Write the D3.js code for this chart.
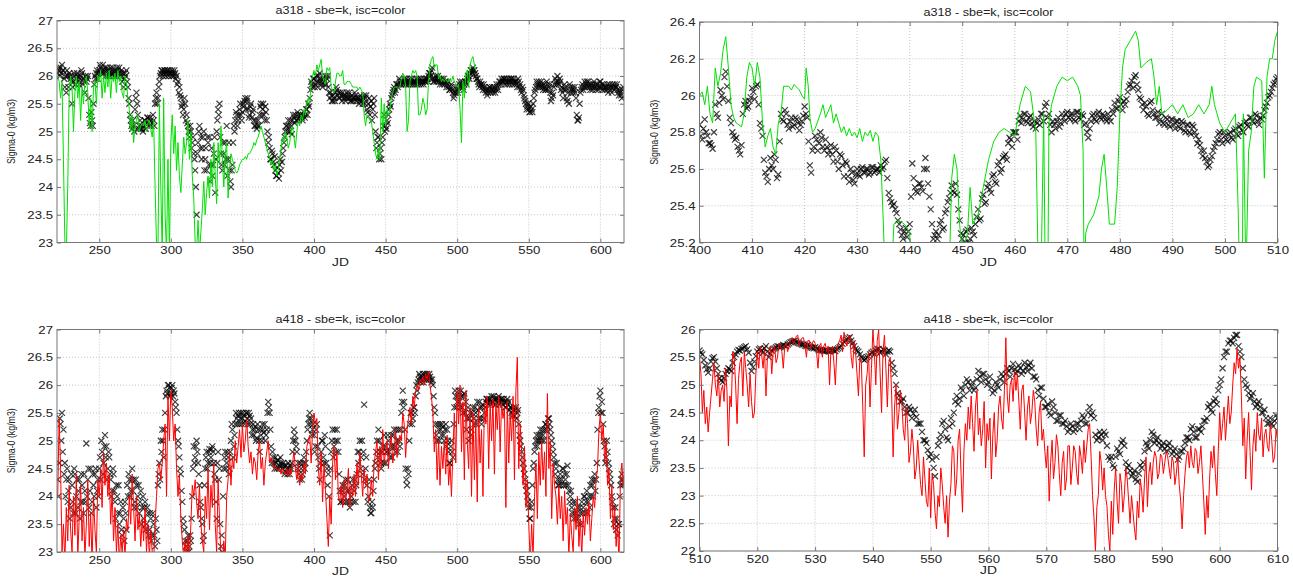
<!DOCTYPE html>
<html>
<head>
<meta charset="utf-8">
<script src="https://cdn.jsdelivr.net/npm/d3@7"></script>
<style>
  body { margin: 0; background: #fff; }
  svg { display: block; }
  .tick text { font-family: "Liberation Sans", Arial, sans-serif; font-size: 11px; fill: #222; }
  .lbl { font-family: "Liberation Sans", Arial, sans-serif; fill: #222; }
</style>
</head>
<body>
<div id="container"></div>
<script>
// ---- titles / ticks ----
const titleA318 = "a318 - sbe=k, isc=color";
const titleA418 = "a418 - sbe=k, isc=color";
const xLabel = "JD";
const yLabel = "Sigma-0 (kg/m3)";

const jdTicksWide = [250, 300, 350, 400, 450, 500, 550, 600];
const sigmaTicksWide = [23, 23.5, 24, 24.5, 25, 25.5, 26, 26.5, 27];
const jdTicksZoom318 = [400, 410, 420, 430, 440, 450, 460, 470, 480, 490, 500, 510];
const sigmaTicksZoom318 = [25.2, 25.4, 25.6, 25.8, 26, 26.2, 26.4];
const jdTicksZoom418 = [510, 520, 530, 540, 550, 560, 570, 580, 590, 600, 610];
const sigmaTicksZoom418 = [22, 22.5, 23, 23.5, 24, 24.5, 25, 25.5, 26];

// ---- a318, sbe (black x), daily from JD 221 ----
const sbeA318 = [
  26.05, 26.1, 26.15, 26.2, 26.1, 25.8, 25.7, 26.0, 26.05, 25.95,
  25.5, 25.9, 26.0, 25.95, 26.0, 25.85, 26.0, 26.05, 25.95, 25.7,
  25.9, 26.0, 25.3, 25.1, 25.2, 25.5, 26.0, 26.05, 25.95, 26.1,
  26.15, 26.1, 26.05, 26.15, 26.1, 26.0, 26.05, 26.15, 26.1, 26.05,
  26.1, 26.0, 26.1, 26.15, 26.05, 25.9, 25.8, 26.05, 26.1, 25.8,
  25.5, 25.2, 25.05, 25.1, 25.4, 25.7, 25.3, 25.1, 25.05, 25.05,
  25.1, 25.2, 25.15, 25.25, 25.1, 25.2, 25.15, 25.2, 25.5, 25.7,
  25.6, 25.9, 26.05, 26.1, 26.05, 26.1, 26.05, 26.1, 26.05, 26.05,
  26.1, 26.0, 26.05, 26.0, 25.9, 25.8, 25.6, 25.5, 25.4, 25.5,
  25.3, 25.1, 24.9, 25.0, 24.8, 24.6, 24.3, 23.5, 24.8, 25.1,
  24.9, 24.7, 25.0, 24.5, 24.3, 24.8, 24.9, 24.4, 24.2, 24.6,
  23.9, 25.0, 25.4, 25.5, 24.6, 24.3, 24.6, 24.8, 25.1, 24.5,
  24.3, 24.0, 24.4, 25.1, 25.2, 25.3, 25.2, 25.4, 25.3, 25.35,
  25.45, 25.6, 25.55, 25.4, 25.3, 25.5, 25.35, 25.2, 25.1, 25.05,
  25.2, 25.3, 25.5, 25.4, 25.3, 25.45, 25.2, 24.8, 24.7, 24.5,
  24.6, 24.4, 24.3, 24.2, 24.25, 24.4, 24.3, 24.6, 24.8, 25.0,
  25.1, 25.2, 25.0, 25.1, 25.2, 25.25, 25.3, 25.2, 25.3, 25.25,
  25.3, 25.2, 25.35, 25.3, 25.4, 25.5, 25.6, 25.9, 25.8, 25.95,
  25.85, 25.9, 26.0, 26.05, 25.9, 25.8, 25.85, 26.0, 25.95, 25.8,
  25.6, 25.65, 25.55, 25.6, 25.7, 25.75, 25.7, 25.6, 25.65, 25.7,
  25.6, 25.55, 25.7, 25.65, 25.6, 25.55, 25.6, 25.6, 25.65, 25.55,
  25.6, 25.55, 25.6, 25.5, 25.65, 25.6, 25.4, 25.5, 25.3, 25.55,
  25.4, 25.6, 25.0, 24.8, 24.9, 24.6, 24.5, 24.9, 25.3, 25.1,
  25.2, 25.3, 25.5, 25.6, 25.7, 25.8, 25.75, 25.85, 25.85, 25.9,
  25.85, 25.9, 25.95, 25.85, 25.9, 25.85, 25.95, 25.9, 25.85, 25.9,
  25.9, 25.85, 25.95, 25.9, 25.85, 25.9, 25.95, 25.9, 25.95, 26.0,
  26.05, 26.1, 25.95, 25.9, 26.0, 25.95, 25.9, 25.85, 25.95, 25.9,
  25.85, 25.9, 25.85, 25.8, 25.75, 25.85, 25.7, 25.65, 25.7, 25.75,
  25.8, 25.9, 25.85, 25.8, 25.85, 25.9, 25.95, 26.0, 26.05, 26.1,
  26.15, 26.1, 26.0, 25.95, 25.85, 25.9, 25.85, 25.75, 25.8, 25.7,
  25.65, 25.75, 25.8, 25.75, 25.7, 25.8, 25.75, 25.8, 25.85, 25.9,
  25.95, 25.9, 25.95, 25.9, 25.85, 25.95, 25.9, 25.95, 25.9, 25.85,
  25.9, 25.8, 25.9, 25.85, 25.7, 25.75, 25.6, 25.5, 25.45, 25.4,
  25.35, 25.4, 25.5, 25.7, 25.8, 25.85, 25.9, 25.8, 25.85, 25.75,
  25.8, 25.75, 25.85, 25.8, 25.7, 25.6, 25.65, 25.85, 25.9, 26.0,
  25.85, 25.9, 25.8, 25.6, 25.85, 25.75, 25.55, 25.5, 25.8, 25.75,
  25.7, 25.8, 25.6, 25.2, 25.25, 25.7, 25.8, 25.75, 25.9, 25.85,
  25.8, 25.85, 25.75, 25.8, 25.85, 25.8, 25.75, 25.85, 25.8, 25.9,
  25.85, 25.8, 25.75, 25.8, 25.85, 25.8, 25.75, 25.7, 25.8, 25.85,
  25.8, 25.75, 25.65, 25.7, 25.6, 25.8
];
// second casts of each day, from JD 221.5
const sbeA318B = [
  26.15, 26.0, 26.05, 26.1, 25.95, 26.0, 26.1, 25.8, 26.0, 25.9,
  25.8, 26.05, 25.85, 26.05, 25.9, 25.95, 26.1, 25.85, 25.9, 26.0,
  25.95, 25.6, 25.15, 25.35, 25.1, 25.85, 25.95, 26.1, 26.05, 26.2,
  26.05, 26.2, 26.1, 26.0, 26.15, 26.1, 26.0, 26.05, 26.15, 26.0,
  26.05, 26.15, 26.05, 26.0, 26.1, 26.05, 25.95, 26.0, 25.9, 25.6,
  25.3, 25.1, 25.2, 25.0, 25.6, 25.5, 25.05, 25.2, 25.1, 25.0,
  25.2, 25.05, 25.25, 25.15, 25.25, 25.1, 25.3, 25.1, 25.6, 25.5,
  25.8, 26.0, 26.1, 26.0, 26.1, 26.0, 26.1, 26.0, 26.1, 26.0,
  26.05, 26.1, 25.95, 25.85, 25.7, 25.65, 25.45, 25.3, 25.6, 25.2,
  25.15, 25.0, 25.1, 24.7, 24.9, 24.5, 24.0, 24.6, 25.0, 24.7,
  24.5, 24.9, 24.3, 24.7, 24.9, 24.4, 24.1, 24.7, 24.4, 24.9,
  24.5, 25.2, 25.3, 24.9, 24.4, 24.8, 24.4, 24.5, 24.2, 24.8,
  24.1, 24.3, 24.8, 25.0, 25.35, 25.1, 25.3, 25.5, 25.2, 25.5,
  25.55, 25.4, 25.6, 25.25, 25.45, 25.25, 25.4, 25.1, 25.2, 25.1,
  25.1, 25.45, 25.3, 25.5, 25.2, 25.35, 25.0, 24.9, 24.5, 24.65,
  24.45, 24.55, 24.2, 24.35, 24.15, 24.5, 24.45, 24.7, 24.9, 25.1,
  25.0, 25.1, 25.2, 24.95, 25.3, 25.15, 25.2, 25.35, 25.2, 25.3,
  25.25, 25.3, 25.25, 25.4, 25.3, 25.45, 25.75, 25.85, 25.95, 25.8,
  26.0, 25.8, 25.9, 25.95, 25.85, 25.95, 25.9, 25.85, 26.0, 25.7,
  25.7, 25.55, 25.65, 25.55, 25.8, 25.65, 25.6, 25.7, 25.55, 25.65,
  25.65, 25.6, 25.6, 25.7, 25.55, 25.65, 25.55, 25.7, 25.6, 25.6,
  25.5, 25.65, 25.55, 25.6, 25.5, 25.65, 25.35, 25.6, 25.45, 25.2,
  25.5, 25.3, 24.7, 24.9, 24.5, 24.7, 24.8, 25.1, 25.0, 25.05,
  25.15, 25.4, 25.45, 25.65, 25.75, 25.7, 25.85, 25.8, 25.95, 25.85,
  25.9, 25.85, 25.9, 25.95, 25.85, 25.9, 25.85, 25.95, 25.9, 25.85,
  25.95, 25.9, 25.85, 25.95, 25.9, 25.85, 25.9, 25.95, 25.9, 26.05,
  26.0, 26.15, 25.9, 25.95, 25.9, 26.0, 25.95, 25.9, 25.85, 25.95,
  25.9, 25.8, 25.9, 25.75, 25.8, 25.75, 25.6, 25.7, 25.8, 25.7,
  25.85, 25.8, 25.9, 25.75, 25.9, 25.85, 26.0, 25.95, 26.1, 26.05,
  26.1, 26.05, 25.95, 25.9, 25.8, 25.85, 25.8, 25.85, 25.75, 25.75,
  25.7, 25.8, 25.7, 25.8, 25.75, 25.7, 25.85, 25.75, 25.9, 25.85,
  25.9, 25.95, 25.85, 25.95, 25.9, 25.85, 25.95, 25.85, 25.95, 25.9,
  25.85, 25.95, 25.8, 25.75, 25.8, 25.65, 25.55, 25.4, 25.5, 25.35,
  25.45, 25.35, 25.6, 25.75, 25.9, 25.8, 25.85, 25.9, 25.8, 25.85,
  25.75, 25.9, 25.75, 25.85, 25.55, 25.7, 25.8, 25.95, 25.85, 25.9,
  25.95, 25.75, 25.7, 25.75, 25.8, 25.6, 25.7, 25.85, 25.7, 25.8,
  25.75, 25.7, 25.3, 25.2, 25.5, 25.75, 25.85, 25.8, 25.8, 25.9,
  25.9, 25.8, 25.85, 25.75, 25.9, 25.85, 25.8, 25.75, 25.9, 25.8,
  25.75, 25.85, 25.8, 25.75, 25.7, 25.85, 25.8, 25.85, 25.75, 25.8,
  25.85, 25.7, 25.75, 25.65, 25.75
];

// ---- a318, isc (green line), daily from JD 221 ----
const iscA318 = [
  26.0, 25.9, 25.6, 25.9, 24.5, 23.0, 22.8, 24.0, 25.7, 26.0,
  25.8, 25.0, 25.7, 26.0, 25.6, 25.9, 25.2, 25.8, 25.5, 25.9,
  26.0, 25.7, 25.1, 25.6, 25.0, 25.8, 25.9, 25.5, 26.0, 25.9,
  26.1, 25.6, 26.0, 25.7, 26.05, 25.8, 26.1, 25.6, 26.0, 25.9,
  26.05, 25.7, 26.1, 25.9, 26.0, 25.7, 25.6, 26.0, 25.9, 25.6,
  25.4, 25.0, 25.3, 24.8, 25.1, 25.2, 25.3, 25.0, 25.1, 25.15,
  25.1, 25.2, 25.0, 25.15, 25.2, 25.05, 24.9, 25.2, 24.0, 23.0,
  22.8, 25.5, 24.0, 22.8, 25.6, 23.5, 22.8, 24.5, 22.8, 24.8,
  25.3, 24.6, 25.1, 24.3, 24.8, 24.2, 23.9, 24.4, 24.9, 24.6,
  24.8, 25.2, 24.5, 25.0, 24.2, 23.8, 23.0, 22.8, 23.4, 22.8,
  23.2, 23.6, 24.1, 23.5, 23.9, 24.2, 23.8, 24.5, 24.0, 24.8,
  24.2, 23.7, 24.8, 24.4, 25.1, 24.5, 24.0, 24.6, 24.8, 23.8,
  24.3, 24.6, 24.5, 24.4, 24.3, 24.25, 24.3, 24.4, 24.45, 24.5,
  24.5, 24.55, 24.5, 24.6, 24.6, 24.65, 24.7, 24.8, 24.75, 24.85,
  24.9, 25.0, 25.1, 25.0, 24.9, 24.8, 24.7, 24.6, 24.5, 24.4,
  24.5, 24.3, 24.4, 24.2, 24.3, 24.5, 24.7, 24.9, 24.8, 25.0,
  24.9, 24.7, 24.8, 25.0, 25.1, 24.9, 24.7, 25.0, 25.2, 25.1,
  25.3, 25.2, 25.4, 25.3, 25.5, 25.6, 25.5, 25.9, 26.0, 26.1,
  26.0, 26.2, 26.1, 26.2, 26.3, 26.0, 25.9, 25.85, 26.15, 26.1,
  26.15, 25.8, 25.75, 25.7, 25.9, 26.05, 26.05, 26.0, 26.0, 26.1,
  25.85, 25.85, 25.9, 25.9, 25.9, 25.85, 25.8, 25.8, 25.8, 25.8,
  25.75, 25.8, 25.75, 25.7, 25.3, 25.1, 25.3, 25.25, 25.2, 25.2,
  25.0, 24.8, 24.6, 24.5, 24.7, 24.5, 25.6, 25.0, 25.5, 25.1,
  25.4, 25.3, 25.4, 25.6, 25.7, 25.8, 25.8, 25.8, 25.8, 25.8,
  25.95, 26.05, 26.0, 25.8, 25.0, 25.2, 25.9, 26.0, 26.1, 26.05,
  26.1, 26.0, 25.3, 25.3, 25.4, 25.6, 25.5, 25.3, 25.4, 25.9,
  26.2, 26.3, 26.35, 26.15, 26.2, 26.2, 25.95, 26.0, 25.9, 25.95,
  25.9, 25.95, 25.9, 25.9, 25.95, 25.9, 26.0, 25.9, 25.85, 25.8,
  25.85, 25.4, 24.8, 25.9, 25.6, 26.05, 26.1, 25.8, 26.2, 26.3,
  26.35, 26.2, 26.1
];

// ---- a318 zoom, sbe (black x), half-daily from JD 400 and 400.25 ----
const sbeA318Zoom = [
  25.84, 25.76, 25.87, 25.78, 25.74, 25.71, 25.95, 25.88, 26.03, 25.98,
  26.13, 25.97, 25.85, 25.78, 25.77, 25.7, 25.73, 25.95, 25.93, 25.97,
  26.04, 25.98, 26.06, 25.85, 25.78, 25.58, 25.53, 25.66, 25.6, 25.65,
  25.57, 25.9, 25.86, 25.9, 25.82, 25.88, 25.84, 25.87, 25.81, 25.86,
  25.94, 25.88, 25.62, 25.7, 25.78, 25.7, 25.8, 25.72, 25.76, 25.68,
  25.73, 25.64, 25.7, 25.6, 25.67, 25.56, 25.63, 25.53, 25.58, 25.52,
  25.6, 25.56, 25.61, 25.58, 25.6, 25.58, 25.61, 25.59, 25.6, 25.62,
  25.61, 25.65, 25.47, 25.42, 25.41, 25.36, 25.3, 25.24, 25.26, 25.23,
  25.3, 25.63, 25.5, 25.47, 25.52, 25.48, 25.66, 25.52, 25.38, 25.22,
  25.26, 25.24, 25.32, 25.28, 25.38, 25.44, 25.51, 25.47, 25.46, 25.32,
  25.22, 25.2, 25.27, 25.22, 25.26, 25.3, 25.38, 25.33, 25.46, 25.42,
  25.52, 25.47, 25.57, 25.52, 25.64, 25.6, 25.67, 25.65, 25.77, 25.72,
  25.8, 25.76, 25.89, 25.87, 25.9, 25.85, 25.89, 25.83, 25.82, 25.87,
  25.9, 25.86, 25.96, 25.9, 25.8, 25.84, 25.86, 25.83, 25.9, 25.86,
  25.91, 25.87, 25.9, 25.86, 25.91, 25.87, 25.89, 25.85, 25.77, 25.86,
  25.9, 25.86, 25.91, 25.87, 25.89, 25.86, 25.88, 25.92, 25.96, 25.93,
  25.99, 25.92, 25.95, 26.02, 26.06, 26.04, 26.11, 26.03, 25.98, 25.92,
  25.94, 25.89, 25.97, 25.9, 25.88, 25.85, 25.9, 25.84, 25.87, 25.83,
  25.87, 25.82, 25.86, 25.82, 25.85, 25.8, 25.84, 25.79, 25.83, 25.78,
  25.76, 25.7, 25.7, 25.64, 25.62, 25.67, 25.72, 25.76, 25.8, 25.74,
  25.78, 25.75, 25.8, 25.76, 25.82, 25.78, 25.84, 25.8, 25.86, 25.83,
  25.88, 25.85, 25.89, 25.84, 25.87, 25.92, 25.96, 26.0, 26.04, 26.07,
  26.1
];
const sbeA318ZoomB = [
  25.78, 25.82, 25.8, 25.74, 25.73, 25.8, 25.9, 25.96, 26.0, 26.1,
  26.05, 25.88, 25.8, 25.76, 25.72, 25.68, 25.9, 25.97, 25.94, 25.99,
  26.02, 26.05, 25.95, 25.82, 25.65, 25.56, 25.6, 25.62, 25.68, 25.55,
  25.75, 25.87, 25.92, 25.84, 25.86, 25.83, 25.88, 25.85, 25.84, 25.89,
  25.9, 25.75, 25.58, 25.72, 25.76, 25.74, 25.77, 25.7, 25.72, 25.7,
  25.68, 25.72, 25.64, 25.68, 25.62, 25.64, 25.56, 25.6, 25.54, 25.57,
  25.57, 25.6, 25.58, 25.6, 25.57, 25.61, 25.58, 25.6, 25.58, 25.6,
  25.64, 25.55, 25.44, 25.4, 25.38, 25.32, 25.27, 25.22, 25.28, 25.26,
  25.45, 25.55, 25.48, 25.52, 25.5, 25.6, 25.6, 25.45, 25.3, 25.24,
  25.22, 25.3, 25.27, 25.36, 25.42, 25.47, 25.48, 25.52, 25.38, 25.25,
  25.24, 25.26, 25.2, 25.28, 25.24, 25.34, 25.32, 25.44, 25.41, 25.5,
  25.49, 25.56, 25.53, 25.62, 25.58, 25.66, 25.68, 25.74, 25.76, 25.8,
  25.8, 25.86, 25.85, 25.9, 25.86, 25.88, 25.85, 25.86, 25.85, 25.84,
  25.9, 25.94, 25.88, 25.84, 25.86, 25.82, 25.88, 25.85, 25.88, 25.9,
  25.88, 25.9, 25.87, 25.91, 25.88, 25.9, 25.84, 25.8, 25.82, 25.89,
  25.87, 25.9, 25.88, 25.9, 25.87, 25.9, 25.86, 25.9, 25.93, 25.97,
  25.95, 25.97, 25.98, 26.05, 26.08, 26.1, 26.06, 25.99, 25.95, 25.96,
  25.9, 25.96, 25.92, 25.88, 25.91, 25.87, 25.85, 25.88, 25.84, 25.87,
  25.84, 25.86, 25.83, 25.86, 25.81, 25.84, 25.8, 25.84, 25.8, 25.74,
  25.73, 25.67, 25.66, 25.61, 25.65, 25.7, 25.74, 25.79, 25.76, 25.8,
  25.76, 25.79, 25.77, 25.81, 25.79, 25.83, 25.81, 25.85, 25.84, 25.88,
  25.86, 25.9, 25.86, 25.88, 25.89, 25.94, 25.99, 26.02, 26.06, 26.09
];

// ---- a318 zoom, isc (green line), [JD, sigma] ----
const iscA318Zoom = [
  [400, 26.0], [400.5, 26.02], [401, 25.95], [401.5, 26.05], [402, 25.9], [402.5, 25.85],
  [403, 26.15], [403.5, 26.05], [404, 26.12], [404.5, 26.25], [405, 26.32], [405.5, 26.15],
  [406, 25.95], [406.5, 25.88], [407, 25.85], [408, 25.83], [408.5, 25.9], [409, 26.1],
  [409.5, 26.18], [410, 26.15], [410.5, 26.05], [411, 26.18], [411.5, 26.1], [412, 25.85],
  [412.5, 25.72], [413, 25.78], [413.5, 25.82], [414, 25.72], [414.5, 25.68], [415, 25.85],
  [415.5, 25.9], [416, 26.05], [417, 26.05], [417.5, 26.03], [418, 26.06], [419, 26.03],
  [419.5, 26.0], [420, 25.98], [420.3, 26.15], [420.7, 26.05], [421, 25.88], [421.5, 25.8],
  [422, 25.82], [423, 25.9], [423.5, 25.95], [424, 25.88], [425, 25.95], [425.5, 25.85],
  [426, 25.9], [427, 25.8], [427.5, 25.83], [428, 25.78], [428.5, 25.82], [429, 25.78],
  [429.5, 25.8], [430, 25.77], [430.5, 25.82], [431, 25.75], [431.5, 25.8], [432, 25.78],
  [432.5, 25.81], [433, 25.75], [433.5, 25.8], [434, 25.78], [434.5, 25.65], [435, 25.3],
  [435.3, 25.0], [436.5, 25.0], [437, 25.3], [438, 25.32], [439, 25.3], [440, 25.25],
  [440.3, 25.0], [447.5, 25.0], [448, 25.55], [448.5, 25.68], [449, 25.6], [449.5, 25.3],
  [450, 25.15], [451, 25.25], [451.5, 25.5], [452, 25.3], [453, 25.35], [454, 25.5],
  [455, 25.65], [456, 25.75], [457, 25.8], [458, 25.82], [459, 25.8], [460, 25.78],
  [461, 25.95], [462, 26.05], [463, 26.02], [464, 25.8], [464.5, 25.0], [465, 25.0],
  [465.5, 25.9], [465.8, 25.0], [466.3, 25.0], [466.5, 25.85], [467, 25.95], [468, 26.05],
  [469, 26.1], [470, 26.08], [471, 26.1], [472, 26.05], [472.5, 26.0], [473, 25.7],
  [473.2, 25.0], [473.5, 25.25], [474, 25.3], [475, 25.35], [476, 25.45], [476.5, 25.6],
  [477, 25.68], [477.5, 25.5], [478, 25.3], [479, 25.3], [479.5, 25.5], [480, 25.9],
  [480.5, 26.15], [481, 26.25], [482, 26.3], [483, 26.35], [483.5, 26.3], [484, 26.15],
  [485, 26.18], [486, 26.2], [486.5, 26.1], [487, 25.95], [487.5, 26.05], [488, 25.9],
  [489, 25.92], [490, 25.95], [491, 25.9], [492, 25.95], [493, 25.88], [494, 25.9],
  [495, 25.95], [496, 25.9], [497, 25.95], [497.5, 26.05], [498, 25.95], [499, 25.85],
  [500, 25.8], [501, 25.85], [502, 25.9], [502.5, 25.4], [502.8, 25.0], [503.3, 25.0],
  [503.5, 25.9], [504, 25.0], [504.5, 25.7], [505, 25.8], [505.5, 26.05], [506, 26.1],
  [507, 26.08], [507.5, 25.55], [508, 26.1], [508.5, 26.2], [509, 26.2], [509.5, 26.3],
  [510, 26.35]
];

// ---- a418, sbe (black x), daily from JD 221 and 221.5 ----
const sbeA418 = [
  24.3, 24.6, 25.3, 25.5, 25.2, 24.6, 24.3, 23.9, 24.3, 23.8,
  24.2, 23.7, 24.4, 24.0, 23.8, 24.3, 23.9, 24.2, 23.7, 24.1,
  24.95, 24.3, 23.8, 24.5, 23.9, 24.2, 24.4, 23.8, 24.3, 24.5,
  24.3, 24.8, 24.6, 25.1, 24.9, 24.5, 24.7, 24.3, 24.1, 24.4,
  23.9, 24.2, 23.7, 23.5, 23.9, 23.3, 23.6, 23.9, 23.4, 24.0,
  24.3, 24.1, 24.5, 24.3, 23.9, 24.2, 24.0, 23.7, 24.1, 23.8,
  23.6, 23.9, 23.5, 23.7, 23.4, 23.6, 23.3, 23.5, 23.1, 23.4,
  24.2, 24.6, 25.0, 25.2, 24.7, 25.5, 25.9, 26.0, 25.95, 25.85,
  26.0, 25.9, 25.7, 25.5, 25.0, 24.7, 24.4, 23.9, 23.5, 23.2,
  23.0, 23.3, 23.1, 23.2, 24.0, 24.9, 24.7, 25.0, 24.6, 24.2,
  23.8, 23.5, 23.3, 24.5, 24.8, 24.6, 24.85, 24.7, 24.9, 24.6,
  24.3, 23.6, 24.8, 24.5, 23.1, 23.0, 24.5, 24.8, 24.6, 24.7,
  24.5, 25.0, 25.2, 24.9, 25.3, 25.4, 25.45, 25.3, 25.5, 25.4,
  25.45, 25.35, 25.5, 25.3, 25.45, 25.4, 25.2, 25.1, 25.25, 25.05,
  25.2, 24.8, 25.1, 25.3, 25.15, 25.0, 25.2, 25.7, 25.5, 24.9,
  24.8, 24.6, 24.7, 24.5, 24.65, 24.55, 24.6, 24.5, 24.55, 24.45,
  24.5, 24.6, 24.4, 24.5, 24.8, 25.2, 25.0, 24.8, 24.6, 24.3,
  24.5, 24.4, 24.7, 24.6, 25.0, 25.3, 25.5, 25.4, 25.2, 25.1,
  24.9, 25.3, 24.7, 24.3, 24.8, 25.0, 24.6, 24.9, 24.5, 24.4,
  23.3, 24.8, 25.2, 24.9, 25.0, 25.2, 24.8, 24.1, 23.9, 24.2,
  24.0, 24.3, 24.1, 23.9, 23.8, 24.0, 24.3, 24.1, 23.9, 24.4,
  24.6, 25.0, 24.7, 24.4, 25.65, 24.5, 24.2, 24.0, 23.8, 23.7,
  23.8, 24.3, 24.6, 25.0, 25.2, 24.8, 24.5, 24.9, 25.1, 24.6,
  24.8, 25.0, 24.7, 25.1, 24.9, 25.2, 24.8, 25.0, 25.2, 24.9,
  25.5, 25.9, 25.7, 24.5, 24.2, 24.4, 25.3, 25.5, 25.4, 25.6,
  25.8, 25.9, 26.1, 26.15, 26.1, 26.2, 26.1, 26.15, 26.2, 26.1,
  26.15, 26.05, 26.0, 25.6, 25.3, 25.0, 25.2, 25.3, 25.1, 25.25,
  25.0, 25.3, 25.2, 24.8, 24.6, 25.0, 24.7, 25.6, 25.8, 25.7,
  25.9, 25.6, 25.8, 25.5, 25.85, 25.7, 25.4, 25.0, 25.5, 25.2,
  25.6, 25.3, 25.5, 25.7, 25.4, 25.6, 25.3, 25.65, 25.5, 25.7,
  25.75, 25.65, 25.7, 25.8, 25.7, 25.75, 25.65, 25.7, 25.8, 25.7,
  25.75, 25.65, 25.7, 25.6, 25.75, 25.7, 25.6, 25.5, 25.55, 25.45,
  25.6, 25.5, 25.3, 25.0, 24.8, 24.6, 24.4, 24.2, 24.0, 23.8,
  23.6, 23.9, 24.5, 24.8, 25.0, 24.9, 25.1, 25.2, 25.0, 25.1,
  25.2, 25.3, 25.25, 25.4, 25.2, 25.0, 24.8, 24.6, 24.5, 24.3,
  24.2, 24.4, 24.3, 24.5, 24.4, 24.2, 24.55, 24.1, 24.0, 23.8,
  23.9, 23.7, 23.6, 23.8, 23.5, 23.7, 23.9, 23.8, 24.0, 23.9,
  23.7, 24.0, 24.2, 24.3, 24.0, 24.4, 24.3, 25.2, 25.6, 25.9,
  25.7, 25.3, 24.9, 24.7, 24.8, 24.5, 24.3, 24.0, 23.8, 23.6,
  23.4, 23.3, 23.5, 24.2, 24.4, 24.3
];
const sbeA418B = [
  24.0, 25.4, 25.0, 24.8, 24.4, 24.0, 24.5, 24.1, 23.6, 24.4,
  23.9, 24.5, 23.7, 24.3, 24.1, 23.6, 24.4, 23.9, 24.4, 23.9,
  24.0, 24.5, 24.1, 23.7, 24.4, 24.0, 24.5, 24.1, 24.0, 24.7,
  25.0, 24.4, 24.9, 24.7, 24.3, 24.8, 24.4, 24.0, 24.5, 24.1,
  23.6, 24.0, 24.2, 23.7, 23.4, 23.8, 23.2, 23.7, 24.2, 24.4,
  24.0, 24.3, 24.1, 23.8, 24.3, 23.8, 24.2, 23.9, 23.5, 24.0,
  23.8, 23.4, 23.8, 23.3, 23.7, 23.2, 23.7, 23.3, 23.6, 23.2,
  24.4, 24.3, 24.8, 25.0, 25.2, 25.8, 25.85, 26.0, 25.8, 25.95,
  25.8, 25.85, 25.6, 25.2, 24.9, 24.5, 24.1, 23.6, 23.4, 23.1,
  23.2, 23.0, 23.3, 23.6, 24.5, 24.6, 24.9, 24.8, 24.4, 23.9,
  23.6, 23.2, 24.2, 24.7, 24.5, 24.8, 24.6, 24.85, 24.8, 24.4,
  23.9, 24.6, 24.3, 23.5, 23.3, 24.0, 24.7, 24.5, 24.8, 24.4,
  24.8, 25.3, 24.7, 25.1, 25.5, 25.3, 25.5, 25.4, 25.3, 25.5,
  25.3, 25.5, 25.4, 25.5, 25.3, 25.1, 25.3, 25.2, 25.0, 25.3,
  25.0, 25.2, 25.0, 25.2, 25.3, 25.1, 25.5, 25.6, 25.2, 24.6,
  24.7, 24.5, 24.6, 24.65, 24.5, 24.7, 24.55, 24.6, 24.4, 24.55,
  24.4, 24.5, 24.55, 24.6, 25.0, 25.1, 24.9, 24.5, 24.4, 24.6,
  24.3, 24.6, 24.5, 24.8, 25.2, 25.4, 25.3, 25.1, 25.3, 24.8,
  25.2, 24.9, 24.5, 24.6, 25.0, 24.7, 25.1, 24.6, 24.2, 24.0,
  24.5, 25.0, 24.7, 25.2, 24.8, 25.0, 24.4, 23.9, 24.1, 23.9,
  24.2, 23.9, 24.3, 24.1, 23.9, 24.2, 23.9, 24.3, 24.2, 24.8,
  24.8, 24.5, 25.0, 24.8, 24.3, 24.7, 23.9, 24.3, 23.7, 23.9,
  24.1, 24.5, 24.8, 24.7, 25.0, 24.6, 24.8, 24.6, 24.9, 24.8,
  25.1, 24.8, 24.9, 24.7, 25.1, 24.9, 25.2, 24.8, 25.0, 25.2,
  25.7, 25.6, 25.2, 24.3, 24.5, 25.0, 25.5, 25.3, 25.6, 25.5,
  26.0, 26.05, 26.2, 26.05, 26.15, 26.05, 26.2, 26.1, 26.15, 26.2,
  26.1, 26.1, 25.8, 25.5, 25.1, 25.3, 25.0, 25.2, 25.3, 25.1,
  25.2, 24.9, 25.0, 24.6, 24.9, 24.8, 25.3, 25.9, 25.6, 25.8,
  25.7, 25.9, 25.6, 25.8, 25.5, 25.2, 25.6, 25.4, 25.1, 25.5,
  25.4, 25.6, 25.3, 25.55, 25.7, 25.4, 25.6, 25.4, 25.6, 25.75,
  25.7, 25.75, 25.65, 25.7, 25.8, 25.65, 25.75, 25.75, 25.65, 25.75,
  25.7, 25.75, 25.6, 25.7, 25.65, 25.55, 25.6, 25.45, 25.6, 25.55,
  25.4, 25.55, 25.1, 24.9, 24.7, 24.5, 24.3, 24.1, 23.9, 23.6,
  23.8, 24.2, 24.6, 24.9, 25.1, 25.0, 25.0, 25.1, 25.2, 25.0,
  25.3, 25.2, 25.4, 25.3, 25.1, 24.9, 24.7, 24.4, 24.6, 24.2,
  24.3, 24.2, 24.5, 24.2, 24.3, 24.4, 24.2, 23.9, 24.1, 23.7,
  23.6, 23.9, 23.7, 23.6, 23.8, 23.5, 23.7, 24.0, 23.7, 24.1,
  23.9, 23.8, 24.0, 24.2, 24.3, 24.1, 24.6, 25.5, 25.8, 25.5,
  25.5, 25.0, 24.6, 25.0, 24.6, 24.4, 24.2, 23.9, 23.5, 23.8,
  23.6, 23.5, 24.0, 24.3, 24.2
];

// ---- a418, isc (red line), daily from JD 221 ----
const iscA418 = [
  24.0, 25.4, 24.5, 23.0, 23.5, 22.8, 23.8, 23.2, 24.2, 23.4,
  23.0, 24.0, 23.3, 24.4, 22.9, 23.6, 24.2, 23.2, 23.8, 22.9,
  23.5, 24.3, 23.1, 23.7, 22.8, 24.0, 23.4, 23.0, 24.3, 24.0,
  24.5, 23.8, 24.8, 24.2, 24.6, 24.0, 24.4, 23.5, 24.1, 23.2,
  23.8, 23.0, 23.5, 22.8, 23.3, 23.0, 23.4, 22.9, 23.6, 23.4,
  24.0, 23.5, 24.4, 23.8, 23.2, 24.0, 23.4, 23.7, 23.1, 23.6,
  23.2, 23.8, 23.0, 23.5, 22.9, 23.4, 23.0, 22.8, 23.5, 24.0,
  24.5, 24.6, 24.3, 24.6, 25.0, 25.3, 24.0, 25.8, 25.0, 25.9,
  25.6, 25.0, 25.3, 24.5, 24.0, 24.4, 23.6, 23.2, 22.9, 23.2,
  22.8, 23.3, 22.9, 23.5, 24.2, 24.0, 24.3, 23.9, 23.6, 24.2,
  23.5, 23.2, 23.0, 24.0, 23.6, 24.5, 23.4, 24.2, 23.8, 24.6,
  23.5, 23.0, 24.3, 23.6, 22.9, 22.8, 23.2, 22.9, 24.0, 24.3,
  24.8, 24.2, 24.7, 24.5, 25.0, 24.6, 24.9, 25.2, 24.7, 25.3,
  24.8, 25.0, 25.4, 24.9, 24.6, 24.8, 24.4, 24.7, 24.6, 24.3,
  24.8, 25.0, 24.5, 24.7, 24.2, 24.6, 24.8, 25.0, 24.6, 24.7,
  24.6, 24.5, 24.55, 24.5, 24.45, 24.5, 24.4, 24.5, 24.45, 24.4,
  24.5, 24.35, 24.5, 24.4, 24.6, 24.8, 24.5, 24.3, 24.6, 24.2,
  24.4, 24.3, 24.6, 24.4, 24.9, 25.0, 25.1, 24.6, 25.2, 25.5,
  25.3, 25.4, 24.5, 24.2, 24.8, 23.9, 24.6, 24.1, 23.6, 23.1,
  24.0, 23.5, 24.6, 24.9, 24.3, 24.8, 24.0, 23.9, 24.2, 23.8,
  24.3, 23.9, 24.1, 24.5, 23.8, 24.2, 24.0, 24.4, 24.0, 24.6,
  24.2, 24.8, 24.4, 24.0, 24.5, 24.2, 24.4, 23.9, 24.0, 24.3,
  24.0, 24.6, 24.8, 25.0, 24.3, 24.9, 24.5, 25.2, 24.6, 24.8,
  25.0, 24.5, 24.9, 25.1, 24.6, 24.8, 25.2, 24.7, 25.0, 25.1,
  25.0, 25.5, 25.3, 24.7, 25.2, 25.4, 25.6, 25.3, 25.8, 25.6,
  25.9, 26.0, 25.9, 26.1, 26.05, 26.15, 26.0, 26.2, 26.1, 26.25,
  26.0, 25.8, 25.5, 24.8, 25.2, 24.3, 25.0, 24.2, 24.9, 24.5,
  25.0, 24.4, 25.1, 24.2, 24.6, 24.0, 24.8, 25.5, 24.6, 25.9,
  25.3, 26.0, 24.8, 25.7, 24.3, 25.9, 25.0, 24.5, 25.6, 24.0,
  25.5, 24.3, 25.4, 23.9, 25.6, 24.6, 25.2, 24.0, 25.7, 25.3,
  25.8, 24.5, 25.7, 25.0, 25.75, 24.4, 25.7, 25.2, 25.8, 24.8,
  25.7, 25.4, 25.6, 23.8, 25.7, 24.6, 25.5, 25.0, 25.8, 24.3,
  25.9, 26.5, 24.5, 25.3, 24.8, 24.2, 24.9, 23.8, 24.3, 23.5,
  22.8, 23.5, 22.9, 24.0, 24.6, 23.6, 24.8, 24.2, 25.0, 24.3,
  24.8, 24.0, 25.85, 24.5, 25.0, 23.6, 24.6, 24.2, 24.0, 23.5,
  24.2, 23.6, 24.0, 23.2, 24.1, 23.5, 23.8, 22.9, 23.7, 23.3,
  23.0, 23.8, 23.4, 24.0, 23.1, 23.6, 22.9, 23.7, 23.3, 23.8,
  23.5, 23.9, 23.2, 23.6, 24.0, 23.8, 24.3, 24.5, 25.2, 25.5,
  25.0, 25.3, 24.6, 25.0, 24.2, 24.5, 23.6, 24.2, 23.4, 23.8,
  23.1, 23.5, 22.8, 24.3, 24.6, 24.2, 24.4
];

// ---- a418 zoom, sbe (black x), half-daily from JD 510 and 510.25 ----
const sbeA418Zoom = [
  25.62, 25.55, 25.35, 25.22, 25.42, 25.5, 25.3, 25.12, 25.05, 25.2,
  25.3, 25.25, 25.5, 25.6, 25.62, 25.66, 25.7, 25.58, 25.25, 25.42,
  25.6, 25.66, 25.58, 25.7, 25.5, 25.62, 25.66, 25.7, 25.68, 25.72,
  25.7, 25.75, 25.78, 25.8, 25.76, 25.74, 25.73, 25.7, 25.7, 25.67,
  25.68, 25.64, 25.63, 25.61, 25.62, 25.6, 25.63, 25.61, 25.66, 25.7,
  25.78, 25.82, 25.86, 25.75, 25.65, 25.6, 25.5, 25.45, 25.5, 25.55,
  25.6, 25.62, 25.65, 25.6, 25.62, 25.6, 25.6, 25.3, 25.0, 24.8,
  24.7, 24.6, 24.5, 24.55, 24.48, 24.42, 24.3, 24.15, 24.0, 23.82,
  23.75, 23.5, 23.7, 24.0, 24.3, 24.2, 24.0, 24.4, 24.5, 24.8,
  24.75, 24.9, 25.0, 25.05, 24.98, 24.9, 25.1, 25.15, 25.2, 25.1,
  25.05, 24.95, 24.9, 25.0, 25.1, 25.15, 25.2, 25.25, 25.3, 25.28,
  25.25, 25.3, 25.25, 25.32, 25.35, 25.3, 25.15, 24.9, 24.95, 24.75,
  24.6, 24.5, 24.7, 24.5, 24.35, 24.45, 24.3, 24.25, 24.2, 24.25,
  24.2, 24.3, 24.35, 24.4, 24.3, 24.6, 24.5, 24.1, 24.05, 24.1,
  24.15, 23.9, 23.65, 23.55, 23.7, 23.8, 23.95, 23.9, 23.5, 23.45,
  23.4, 23.3, 23.4, 23.5, 23.8, 23.9, 24.0, 24.1, 24.0, 23.95,
  23.9, 23.85, 23.9, 23.85, 23.8, 23.75, 23.7, 23.8, 23.95, 24.05,
  24.2, 24.15, 24.05, 24.2, 24.25, 24.35, 24.6, 24.55, 24.7, 24.65,
  25.0, 25.3, 25.6, 25.75, 25.8, 25.85, 25.9, 25.6, 25.3, 25.0,
  24.85, 24.8, 24.7, 24.65, 24.6, 24.5, 24.4, 24.3, 24.3, 24.35,
  24.4
];
const sbeA418ZoomB = [
  25.58, 25.45, 25.28, 25.3, 25.48, 25.42, 25.2, 25.08, 25.12, 25.25,
  25.28, 25.4, 25.55, 25.63, 25.65, 25.68, 25.64, 25.4, 25.32, 25.52,
  25.64, 25.62, 25.66, 25.6, 25.56, 25.65, 25.68, 25.69, 25.7, 25.71,
  25.73, 25.77, 25.79, 25.78, 25.75, 25.73, 25.71, 25.72, 25.68, 25.66,
  25.66, 25.63, 25.62, 25.62, 25.61, 25.62, 25.62, 25.64, 25.68, 25.74,
  25.8, 25.84, 25.8, 25.7, 25.62, 25.55, 25.47, 25.47, 25.52, 25.58,
  25.55, 25.65, 25.58, 25.64, 25.55, 25.62, 25.4, 25.2, 24.85, 24.7,
  24.75, 24.5, 24.6, 24.4, 24.55, 24.3, 24.3, 24.0, 23.95, 23.7,
  23.65, 23.35, 23.9, 24.1, 24.35, 24.05, 24.25, 24.3, 24.7, 24.65,
  24.95, 24.8, 25.1, 24.9, 25.05, 24.95, 25.25, 25.05, 25.2, 25.0,
  25.15, 24.85, 25.05, 24.95, 25.2, 25.05, 25.3, 25.15, 25.38, 25.2,
  25.35, 25.2, 25.4, 25.25, 25.4, 25.15, 25.1, 24.8, 24.95, 24.6,
  24.65, 24.45, 24.6, 24.35, 24.45, 24.3, 24.35, 24.15, 24.3, 24.15,
  24.3, 24.2, 24.45, 24.3, 24.5, 24.45, 24.4, 24.0, 24.15, 24.0,
  24.1, 23.7, 23.7, 23.5, 23.85, 23.75, 24.0, 23.6, 23.55, 23.35,
  23.45, 23.25, 23.55, 23.6, 23.95, 23.85, 24.15, 23.95, 24.05, 23.85,
  23.95, 23.8, 23.95, 23.75, 23.85, 23.65, 23.8, 23.85, 24.05, 24.0,
  24.25, 24.05, 24.2, 24.15, 24.35, 24.4, 24.65, 24.5, 24.75, 24.9,
  25.1, 25.5, 25.6, 25.8, 25.75, 25.9, 25.7, 25.5, 25.1, 24.95,
  24.75, 24.85, 24.6, 24.7, 24.5, 24.55, 24.3, 24.4, 24.25, 24.45
];

// ---- a418 zoom, isc (red line), every quarter day from JD 510 ----
const iscA418Zoom = [
  25.5, 25.2, 24.5, 24.9, 24.3, 24.6, 24.15, 24.5, 24.8, 25.1, 25.4, 25.0, 24.8, 25.2, 24.6, 24.9, 25.0, 24.7, 25.3, 24.9,
  23.9, 24.8, 24.6, 25.6, 25.5, 25.0, 24.3, 25.1, 25.4, 25.5, 24.8, 25.6, 25.3, 25.0, 24.6, 25.2, 24.7, 24.4, 24.5, 25.2,
  25.6, 25.3, 25.7, 25.55, 25.3, 25.65, 24.8, 25.5, 25.6, 25.7, 25.2, 25.6, 25.7, 25.4, 25.5, 25.75, 25.7, 25.6, 25.3, 25.7,
  25.75, 25.6, 25.7, 25.8, 25.85, 25.75, 25.8, 25.88, 25.9, 25.7, 25.8, 25.85, 25.85, 25.7, 25.5, 25.8, 25.8, 25.65, 25.75, 25.8,
  25.75, 25.6, 25.3, 25.7, 25.75, 25.5, 25.7, 25.75, 25.6, 25.7, 25.0, 25.65, 25.7, 25.4, 25.0, 25.6, 25.75, 25.8, 25.9, 25.6,
  25.95, 25.8, 25.7, 25.85, 25.9, 25.5, 25.3, 25.8, 25.6, 25.2, 24.8, 25.5, 25.4, 24.6, 23.7, 25.0, 25.2, 25.6, 24.6, 25.3,
  26.0, 25.6, 25.0, 25.8, 26.0, 25.2, 24.5, 25.6, 25.9, 25.3, 24.6, 25.4, 25.5, 24.8, 23.7, 24.6, 25.0, 24.2, 24.5, 24.9,
  24.7, 24.2, 24.0, 24.6, 24.3, 23.6, 23.8, 24.2, 23.9, 23.3, 23.5, 24.0, 23.6, 23.2, 23.0, 23.7, 23.3, 22.9, 22.8, 23.5,
  22.6, 23.4, 23.2, 22.7, 22.4, 23.0, 22.8, 23.5, 23.2, 22.8, 22.5, 23.0, 22.25, 22.9, 23.2, 23.9, 23.8, 23.0, 23.3, 24.0,
  24.2, 23.4, 22.7, 23.8, 24.3, 24.0, 24.6, 24.2, 24.8, 24.3, 23.8, 24.6, 24.9, 24.1, 24.4, 23.9, 24.2, 24.7, 23.5, 24.3,
  24.0, 24.4, 23.3, 24.1, 24.5, 23.7, 24.0, 24.6, 24.8, 24.4, 24.2, 24.9, 25.85, 24.8, 24.5, 25.0, 25.1, 24.7, 25.25, 24.9,
  25.2, 24.7, 24.2, 24.9, 25.0, 24.5, 24.0, 24.6, 24.8, 24.3, 24.5, 24.9, 24.7, 24.2, 23.9, 24.5, 24.7, 24.0, 24.2, 23.8,
  23.5, 23.9, 22.9, 23.6, 24.0, 23.3, 23.6, 24.1, 23.9, 23.4, 23.0, 23.6, 23.8, 23.1, 23.3, 23.9, 23.9, 23.2, 23.5, 23.9,
  23.8, 23.4, 23.2, 23.9, 23.7, 23.4, 24.0, 23.6, 23.9, 24.2, 24.3, 23.7, 23.0, 22.6, 22.0, 22.8, 23.0, 23.8, 23.6, 23.1,
  23.5, 23.0, 22.8, 22.3, 22.0, 22.9, 22.3, 23.1, 23.5, 22.9, 22.5, 23.4, 23.2, 22.7, 23.0, 23.5, 23.3, 22.9, 22.5, 23.0,
  22.7, 22.4, 22.2, 22.9, 22.6, 23.3, 23.1, 22.7, 23.3, 23.7, 22.8, 23.4, 23.6, 23.2, 23.6, 23.8, 23.7, 23.3, 23.4, 23.75,
  23.7, 23.4, 23.6, 23.8, 23.7, 23.5, 23.3, 23.7, 23.6, 23.2, 23.4, 23.7, 23.2, 22.9, 22.4, 23.0, 23.4, 23.7, 23.8, 23.5,
  23.9, 23.6, 23.5, 23.85, 23.8, 23.4, 23.6, 23.9, 23.4, 22.9, 22.3, 23.0, 22.6, 23.3, 23.8, 23.5, 23.9, 23.4, 23.0, 23.8,
  24.5, 24.0, 24.3, 24.6, 24.0, 24.4, 24.8, 24.3, 24.5, 25.0, 25.4, 25.2, 25.65, 25.3, 25.5, 24.8, 23.9, 24.4, 23.3, 24.0,
  24.5, 23.8, 23.1, 23.9, 24.2, 23.8, 24.5, 24.1, 24.0, 24.4, 23.7, 24.1, 24.2, 23.9, 23.8, 24.3, 24.0, 23.6, 23.7, 24.2,
  24.0
];

// regular sampling -> [jd, sigma] pairs
function series(start, step, values) {
  return values.map((v, i) => [start + i * step, v]);
}

const W = 1293, H = 577;

const panels = [
  { title: titleA318, x0: 57, x1: 624, y0: 20.5, y1: 242.5, xDom: [220.5, 616.5], yDom: [23, 27],
    xTicks: jdTicksWide, yTicks: sigmaTicksWide,
    marks: series(221, 1, sbeA318).concat(series(221.5, 1, sbeA318B)),
    line: series(221, 1, iscA318), color: "#00e000" },
  { title: titleA318, x0: 699.5, x1: 1277.5, y0: 22, y1: 242.5, xDom: [400, 510], yDom: [25.2, 26.4],
    xTicks: jdTicksZoom318, yTicks: sigmaTicksZoom318,
    marks: series(400, 0.5, sbeA318Zoom).concat(series(400.25, 0.5, sbeA318ZoomB)),
    line: iscA318Zoom, color: "#00e000" },
  { title: titleA418, x0: 57, x1: 624, y0: 329.5, y1: 552, xDom: [220.5, 616.5], yDom: [23, 27],
    xTicks: jdTicksWide, yTicks: sigmaTicksWide,
    marks: series(221, 1, sbeA418).concat(series(221.5, 1, sbeA418B)),
    line: series(221, 1, iscA418), color: "#ff0000" },
  { title: titleA418, x0: 699.5, x1: 1277.5, y0: 329.5, y1: 551, xDom: [510, 610], yDom: [22, 26],
    xTicks: jdTicksZoom418, yTicks: sigmaTicksZoom418,
    marks: series(510, 0.5, sbeA418Zoom).concat(series(510.25, 0.5, sbeA418ZoomB)),
    line: series(510, 0.25, iscA418Zoom), color: "#ff0000" }
];

const svg = d3.select("#container").append("svg")
  .attr("width", W).attr("height", H);

const xMark = "M-3,-3L3,3M-3,3L3,-3";
const stretch = 1.2;   // the source figure is stretched sideways

panels.forEach((p, k) => {
  const x = d3.scaleLinear().domain(p.xDom).range([p.x0, p.x1]);
  const y = d3.scaleLinear().domain(p.yDom).range([p.y1, p.y0]);
  const g = svg.append("g");

  // dotted grid
  g.selectAll(".vgrid").data(p.xTicks).enter().append("line")
    .attr("x1", d => x(d)).attr("x2", d => x(d))
    .attr("y1", p.y0).attr("y2", p.y1)
    .attr("stroke", "#b8b8b8").attr("stroke-width", 0.8).attr("stroke-dasharray", "1,2");
  g.selectAll(".hgrid").data(p.yTicks).enter().append("line")
    .attr("x1", p.x0).attr("x2", p.x1)
    .attr("y1", d => y(d)).attr("y2", d => y(d))
    .attr("stroke", "#b8b8b8").attr("stroke-width", 0.8).attr("stroke-dasharray", "1,2");

  const clipId = "clip" + k;
  svg.append("clipPath").attr("id", clipId).append("rect")
    .attr("x", p.x0).attr("y", p.y0).attr("width", p.x1 - p.x0).attr("height", p.y1 - p.y0);
  const plot = g.append("g").attr("clip-path", "url(#" + clipId + ")");

  plot.selectAll(".sbe").data(p.marks).enter().append("path")
    .attr("class", "sbe")
    .attr("d", xMark)
    .attr("transform", d => "translate(" + x(d[0]) + "," + y(d[1]) + ")")
    .attr("stroke", "#000").attr("stroke-opacity", 0.75).attr("stroke-width", 1.2).attr("fill", "none");

  plot.append("path").datum(p.line)
    .attr("d", d3.line().x(d => x(d[0])).y(d => y(d[1])))
    .attr("fill", "none").attr("stroke", p.color).attr("stroke-width", 1);

  // axes, MATLAB style: ticks pointing in, on all four sides
  const fmt = d => String(d);
  const xa = g.append("g").attr("transform", "translate(0," + p.y1 + ")")
    .call(d3.axisBottom(x).tickValues(p.xTicks).tickFormat(fmt).tickSize(-4).tickPadding(4));
  const ya = g.append("g").attr("transform", "translate(" + p.x0 + ",0)")
    .call(d3.axisLeft(y).tickValues(p.yTicks).tickFormat(fmt).tickSize(-4).tickPadding(4));
  g.append("g").attr("transform", "translate(0," + p.y0 + ")")
    .call(d3.axisTop(x).tickValues(p.xTicks).tickFormat("").tickSize(-4));
  g.append("g").attr("transform", "translate(" + p.x1 + ",0)")
    .call(d3.axisRight(y).tickValues(p.yTicks).tickFormat("").tickSize(-4));
  g.selectAll(".domain").remove();
  g.selectAll(".tick line").attr("stroke", "#777");
  xa.selectAll("text").attr("transform", "scale(" + stretch + ",1)");
  ya.selectAll("text").attr("x", -4 / stretch).attr("transform", "scale(" + stretch + ",1)");

  g.append("rect")
    .attr("x", p.x0).attr("y", p.y0).attr("width", p.x1 - p.x0).attr("height", p.y1 - p.y0)
    .attr("fill", "none").attr("stroke", "#777").attr("stroke-width", 1);

  const cx = (p.x0 + p.x1) / 2;
  g.append("text").attr("class", "lbl")
    .attr("transform", "translate(" + cx + "," + (p.y0 - 6.5) + ") scale(" + stretch + ",1)")
    .attr("text-anchor", "middle").attr("font-size", 10.5)
    .text(p.title);
  g.append("text").attr("class", "lbl")
    .attr("transform", "translate(" + cx + "," + (p.y1 + 23) + ") scale(" + stretch + ",1)")
    .attr("text-anchor", "middle").attr("font-size", 11.5)
    .text(xLabel);
  g.append("text").attr("class", "lbl")
    .attr("transform", "translate(" + (p.x0 - 42) + "," + ((p.y0 + p.y1) / 2) + ") rotate(-90) scale(0.8,1)")
    .attr("text-anchor", "middle").attr("font-size", 11)
    .text(yLabel);
});
</script>
</body>
</html>
